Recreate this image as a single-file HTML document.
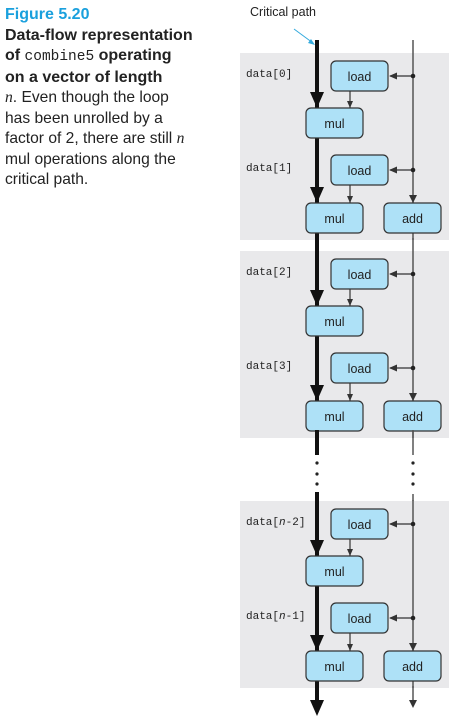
<!DOCTYPE html>
<html><head><meta charset="utf-8"><style>
body{margin:0;background:#fff;width:449px;height:720px;overflow:hidden;position:relative;font-family:"Liberation Sans",sans-serif}
.cap{position:absolute;left:5px;top:5px;white-space:nowrap;font-size:15.6px;line-height:20.5px;color:#222}
.cap .t{color:#1aa0dd;font-weight:bold;font-size:16px}
.cap b{font-weight:bold;font-size:16px}
.cap code{font-family:"Liberation Mono",monospace;font-weight:normal;font-size:14.5px}
.cap i{font-family:"Liberation Serif",serif}
</style></head><body>
<div class="cap"><div class="t">Figure 5.20</div><b>Data-flow representation<br>of <code>combine5</code> operating<br>on a vector of length</b><br><i>n</i>. Even though the loop<br>has been unrolled by a<br>factor of 2, there are still <i>n</i><br>mul operations along the<br>critical path.</div>
<svg width="449" height="720" style="position:absolute;left:0;top:0" font-family="Liberation Sans, sans-serif">
<defs>
<g id="blk">
<rect x="240" y="53" width="209" height="187" fill="#e9e9eb"/>
<line x1="317" y1="40" x2="317" y2="240" stroke="#111" stroke-width="4"/>
<polygon points="310,92 324,92 317,108" fill="#111"/>
<polygon points="310,187 324,187 317,203" fill="#111"/>
<line x1="413" y1="40" x2="413" y2="240" stroke="#555" stroke-width="1.5"/>
<polygon points="409,195 417,195 413,203" fill="#333"/>
<line x1="350" y1="91" x2="350" y2="108" stroke="#333" stroke-width="1.2"/>
<polygon points="347,101 353,101 350,108" fill="#333"/>
<line x1="350" y1="185" x2="350" y2="203" stroke="#333" stroke-width="1.2"/>
<polygon points="347,196 353,196 350,203" fill="#333"/>
<line x1="390" y1="76" x2="413" y2="76" stroke="#333" stroke-width="1.2"/>
<polygon points="389,76 397,72.5 397,79.5" fill="#333"/><circle cx="413" cy="76" r="2.3" fill="#222"/>
<line x1="390" y1="170" x2="413" y2="170" stroke="#333" stroke-width="1.2"/>
<polygon points="389,170 397,166.5 397,173.5" fill="#333"/><circle cx="413" cy="170" r="2.3" fill="#222"/>
<g fill="#aee1f7" stroke="#333" stroke-width="1.2">
<rect x="331" y="61" width="57" height="30" rx="5"/>
<rect x="306" y="108" width="57" height="30" rx="5"/>
<rect x="331" y="155" width="57" height="30" rx="5"/>
<rect x="306" y="203" width="57" height="30" rx="5"/>
<rect x="384" y="203" width="57" height="30" rx="5"/>
</g>
<g font-size="12.5" fill="#222" text-anchor="middle">
<text x="359.5" y="81">load</text><text x="334.5" y="128">mul</text>
<text x="359.5" y="175">load</text><text x="334.5" y="223">mul</text><text x="412.5" y="223">add</text>
</g>
</g>
</defs>
<text x="250" y="16" font-size="12.5" fill="#222">Critical path</text>
<line x1="294" y1="29" x2="313" y2="43" stroke="#33aadd" stroke-width="1"/>
<polygon points="315,45 308,43 311,39" fill="#33aadd"/>
<use href="#blk"/>
<use href="#blk" y="198"/>
<use href="#blk" y="448"/>
<rect x="300" y="440" width="130" height="60" fill="#fff"/>
<line x1="317" y1="430" x2="317" y2="455" stroke="#111" stroke-width="4"/>
<line x1="413" y1="430" x2="413" y2="455" stroke="#555" stroke-width="1.5"/>
<line x1="317" y1="492" x2="317" y2="501" stroke="#111" stroke-width="4"/>
<line x1="413" y1="494" x2="413" y2="501" stroke="#555" stroke-width="1.5"/>
<g fill="#222"><circle cx="317" cy="463" r="1.6"/><circle cx="317" cy="474" r="1.6"/><circle cx="317" cy="484" r="1.6"/>
<circle cx="413" cy="463" r="1.6"/><circle cx="413" cy="474" r="1.6"/><circle cx="413" cy="484" r="1.6"/></g>
<rect x="300" y="688" width="130" height="32" fill="#fff"/>
<line x1="317" y1="686" x2="317" y2="700" stroke="#111" stroke-width="4"/>
<polygon points="310,700 324,700 317,716" fill="#111"/>
<line x1="413" y1="686" x2="413" y2="702" stroke="#555" stroke-width="1.5"/>
<polygon points="409,700 417,700 413,708" fill="#333"/>
<g font-family="Liberation Mono, monospace" font-size="11" fill="#222">
<text x="246" y="77">data[0]</text><text x="246" y="171">data[1]</text>
<text x="246" y="275">data[2]</text><text x="246" y="369">data[3]</text>
<text x="246" y="525">data[<tspan font-style="italic">n</tspan>-2]</text><text x="246" y="619">data[<tspan font-style="italic">n</tspan>-1]</text>
</g>
</svg>
</body></html>
